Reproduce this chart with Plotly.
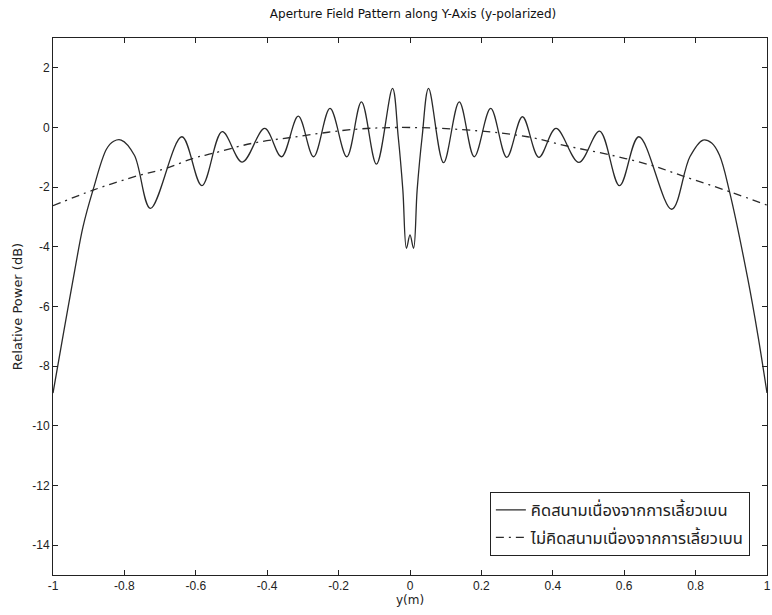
import plotly.graph_objects as go

# Aperture field pattern along the y-axis (y-polarized), relative power in dB
y_with = [-1.000, -0.970, -0.939, -0.916, -0.888, -0.850, -0.830, -0.809, -0.772, -0.727,
          -0.639, -0.583, -0.526, -0.470, -0.407, -0.360, -0.313, -0.270, -0.224,
          -0.177, -0.136, -0.094, -0.049, -0.033, -0.020, -0.010, 0.000, 0.010,
          0.020, 0.034, 0.052, 0.094, 0.138, 0.180, 0.226, 0.271, 0.315, 0.361,
          0.409, 0.473, 0.531, 0.587, 0.641, 0.733, 0.784, 0.821, 0.845, 0.867, 0.895,
          0.946, 0.975, 1.000]
p_with = [-8.90, -6.85, -4.78, -3.33, -2.10, -0.72, -0.46, -0.42, -0.93, -2.71,
          -0.31, -1.95, -0.14, -1.16, -0.03, -0.98, 0.38, -0.98, 0.64,
          -0.98, 0.86, -1.23, 1.31, -0.31, -2.10, -4.05, -3.60, -4.05,
          -2.10, -0.31, 1.31, -1.18, 0.86, -0.98, 0.64, -1.00, 0.36, -1.00,
          -0.03, -1.17, -0.12, -1.95, -0.31, -2.74, -0.98, -0.42, -0.52, -0.93, -2.15,
          -5.06, -7.00, -8.90]

y_without = [-1.000, -0.888, -0.758, -0.683, -0.609, -0.553, -0.442, -0.331,
             -0.154, 0.000, 0.189, 0.329, 0.440, 0.561, 0.682, 0.765, 0.895, 1.000]
p_without = [-2.62, -2.10, -1.60, -1.37, -1.04, -0.87, -0.53, -0.33,
             -0.06, 0.00, -0.11, -0.31, -0.62, -0.92, -1.29, -1.63, -2.15, -2.60]

name_with = "คิดสนามเนื่องจากการเลี้ยวเบน"
name_without = "ไม่คิดสนามเนื่องจากการเลี้ยวเบน"

x_ticks = [-1, -0.8, -0.6, -0.4, -0.2, 0, 0.2, 0.4, 0.6, 0.8, 1]
x_tick_text = ["-1", "-0.8", "-0.6", "-0.4", "-0.2", "0", "0.2", "0.4", "0.6", "0.8", "1"]
y_ticks = [2, 0, -2, -4, -6, -8, -10, -12, -14]
y_tick_text = ["2", "0", "-2", "-4", "-6", "-8", "-10", "-12", "-14"]

FONT = "Arial, 'Liberation Sans', sans-serif"
WIDE_FONT = "'DejaVu Sans', Arial, sans-serif"
THAI_FONT = "Tahoma, 'Noto Sans Thai', 'Loma', 'Garuda', 'Norasi', sans-serif"

fig = go.Figure()
fig.add_trace(go.Scatter(
    x=y_with, y=p_with, mode="lines", name=name_with, legendgroup="a",
    line=dict(color="#2a2a2a", width=1.3, shape="spline", smoothing=1.0),
))
fig.add_trace(go.Scatter(
    x=y_without, y=p_without, mode="lines", name=name_without, legendgroup="b",
    line=dict(color="#2a2a2a", width=1.3, shape="spline", smoothing=1.0,
              dash="8px,5px,2px,5px"),
))

axis_common = dict(
    showline=True, linecolor="#222", linewidth=1, mirror="ticks",
    ticks="inside", ticklen=5, tickwidth=1, tickcolor="#222",
    showgrid=False, zeroline=False, ticklabeloverflow="allow",
    tickfont=dict(family=FONT, size=12, color="#222"),
)

fig.update_layout(
    width=772, height=615,
    margin=dict(l=53, r=1, t=38, b=40),
    paper_bgcolor="white", plot_bgcolor="white",
    title=dict(text="Aperture Field Pattern along Y-Axis (y-polarized)",
               x=0.535, xanchor="center", y=0.977, yanchor="middle",
               font=dict(family=WIDE_FONT, size=12, color="#111")),
    xaxis=dict(range=[-1, 1], tickvals=x_ticks, ticktext=x_tick_text,
               title=dict(text="y(m)", standoff=1,
                          font=dict(family=WIDE_FONT, size=12, color="#222")),
               **axis_common),
    yaxis=dict(range=[-15, 3], tickvals=y_ticks, ticktext=y_tick_text,
               title=dict(text="Relative Power (dB)", standoff=6,
                          font=dict(family=WIDE_FONT, size=13, color="#222")),
               **axis_common),
    legend=dict(x=0.976, xanchor="right", y=0.036, yanchor="bottom",
                bgcolor="white", bordercolor="#222", borderwidth=1,
                tracegroupgap=3,
                font=dict(family=THAI_FONT, size=16.5, color="#222")),
)

fig.write_html("out.html")
